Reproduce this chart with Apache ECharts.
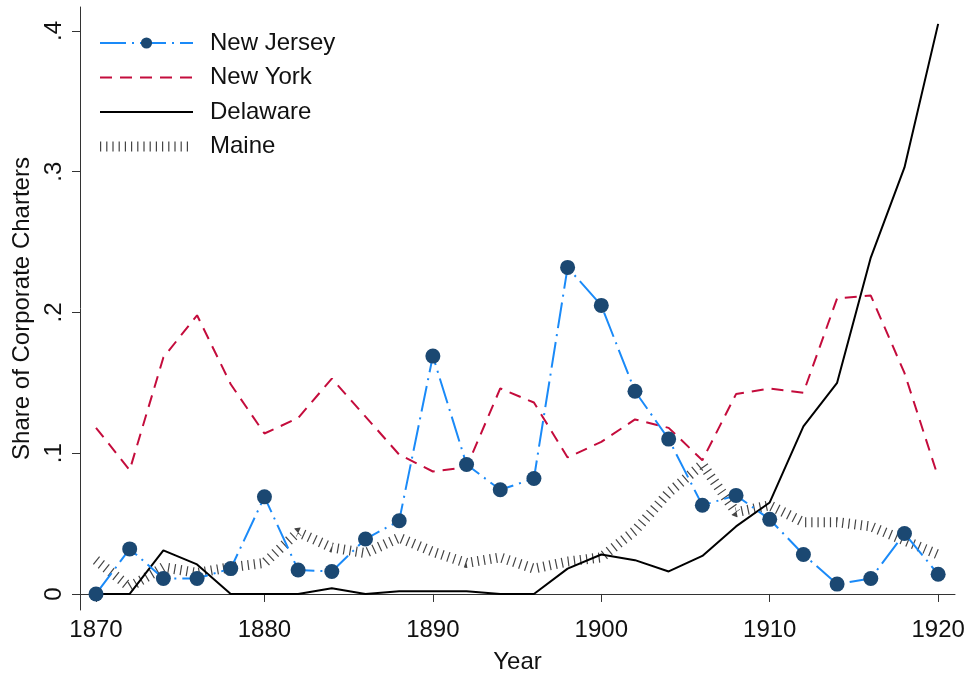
<!DOCTYPE html>
<html>
<head>
<meta charset="utf-8">
<script src="https://cdn.jsdelivr.net/npm/echarts@6/dist/echarts.min.js"></script>
<style>
  html, body { margin: 0; padding: 0; background: #fff; }
  #chart { width: 971px; height: 679px; }
</style>
</head>
<body>
<div id="chart"></div>
<script>
// years, every two years
const years = [1870, 1872, 1874, 1876, 1878, 1880, 1882, 1884, 1886, 1888, 1890, 1892, 1894,
  1896, 1898, 1900, 1902, 1904, 1906, 1908, 1910, 1912, 1914, 1916, 1918, 1920]

// share of corporate charters by state
const newJersey = [0, 0.032, 0.011, 0.011, 0.018, 0.069, 0.017, 0.016, 0.039, 0.052, 0.169, 0.092, 0.074,
  0.082, 0.232, 0.205, 0.144, 0.110, 0.063, 0.070, 0.053, 0.028, 0.007, 0.011, 0.043, 0.014]
const newYork = [0.118, 0.088, 0.168, 0.198, 0.149, 0.114, 0.125, 0.153, 0.126, 0.099, 0.087, 0.090, 0.146,
  0.136, 0.097, 0.108, 0.124, 0.118, 0.095, 0.142, 0.146, 0.143, 0.210, 0.212, 0.157, 0.083]
const delaware = [0, 0, 0.031, 0.021, 0, 0, 0, 0.004, 0, 0.002, 0.002, 0.002, 0,
  0, 0.018, 0.028, 0.024, 0.016, 0.027, 0.048, 0.065, 0.119, 0.150, 0.239, 0.303, 0.405]
const maine = [0.024, 0.005, 0.019, 0.015, 0.019, 0.022, 0.044, 0.033, 0.029, 0.040, 0.030, 0.022, 0.026,
  0.018, 0.023, 0.026, 0.045, 0.072, 0.092, 0.058, 0.063, 0.051, 0.051, 0.048, 0.038, 0.028]

// tick labels
const xTicks = [1870, 1880, 1890, 1900, 1910, 1920]
const yTicks = [0, 0.1, 0.2, 0.3, 0.4]

const pairs = arr => years.map((y, i) => [y, arr[i]])
const font = 'Liberation Sans, Arial, Helvetica, sans-serif'
const noSymbol = { opacity: 0 } // hide legend marker for plain lines

const chart = echarts.init(document.getElementById('chart'))
chart.setOption({
  animation: false,
  textStyle: { fontFamily: font },
  grid: { left: 80, right: 16, top: 7, bottom: 69, outerBoundsMode: 'none' },
  legend: {
    left: 90,
    top: 26,
    orient: 'vertical',
    itemWidth: 93,
    itemHeight: 14,
    itemGap: 10.5,
    textStyle: { fontSize: 24, color: '#111', padding: [0, 0, 0, 12], lineHeight: 24 },
    lineStyle: { width: 'inherit' },
    data: [
      'New Jersey',
      { name: 'New York', itemStyle: noSymbol },
      { name: 'Delaware', itemStyle: noSymbol },
      { name: 'Maine', itemStyle: noSymbol }
    ]
  },
  xAxis: {
    type: 'value',
    min: 1869.05,
    max: 1921.0,
    name: 'Year',
    nameLocation: 'middle',
    nameGap: 40,
    nameTextStyle: { fontSize: 24, color: '#111' },
    axisLine: { lineStyle: { color: '#333', width: 1 } },
    axisTick: { customValues: xTicks, length: 8, lineStyle: { color: '#333' } },
    axisLabel: { customValues: xTicks, fontSize: 24, color: '#111', margin: 8, formatter: v => String(v) },
    splitLine: { show: false }
  },
  yAxis: {
    type: 'value',
    min: -0.0114,
    max: 0.417,
    name: 'Share of Corporate Charters',
    nameLocation: 'middle',
    nameGap: 45,
    nameTextStyle: { fontSize: 24, color: '#111' },
    axisLine: { show: true, lineStyle: { color: '#333', width: 1 } },
    axisTick: { show: true, customValues: yTicks, length: 8, lineStyle: { color: '#333' } },
    axisLabel: {
      customValues: yTicks,
      rotate: 90,
      fontSize: 24,
      color: '#111',
      margin: 14,
      formatter: v => (v === 0 ? '0' : '.' + Math.round(v * 10))
    },
    splitLine: { show: false }
  },
  series: [
    {
      name: 'Maine',
      type: 'line',
      data: pairs(maine),
      symbol: 'none',
      color: '#444',
      lineStyle: { color: '#444', width: 10, type: [1.2, 5], cap: 'butt', join: 'bevel' },
      z: 1
    },
    {
      name: 'Delaware',
      type: 'line',
      data: pairs(delaware),
      symbol: 'none',
      color: '#000',
      lineStyle: { color: '#000', width: 2 },
      z: 2
    },
    {
      name: 'New York',
      type: 'line',
      data: pairs(newYork),
      symbol: 'none',
      color: '#c40c3c',
      lineStyle: { color: '#c40c3c', width: 2, type: [12, 8] },
      z: 3
    },
    {
      name: 'New Jersey',
      type: 'line',
      data: pairs(newJersey),
      symbol: 'circle',
      symbolSize: 15,
      itemStyle: { color: '#1b4872' },
      lineStyle: { color: '#1a8af8', width: 2, type: [26, 6, 2, 6] },
      z: 4
    }
  ]
})
</script>
</body>
</html>
